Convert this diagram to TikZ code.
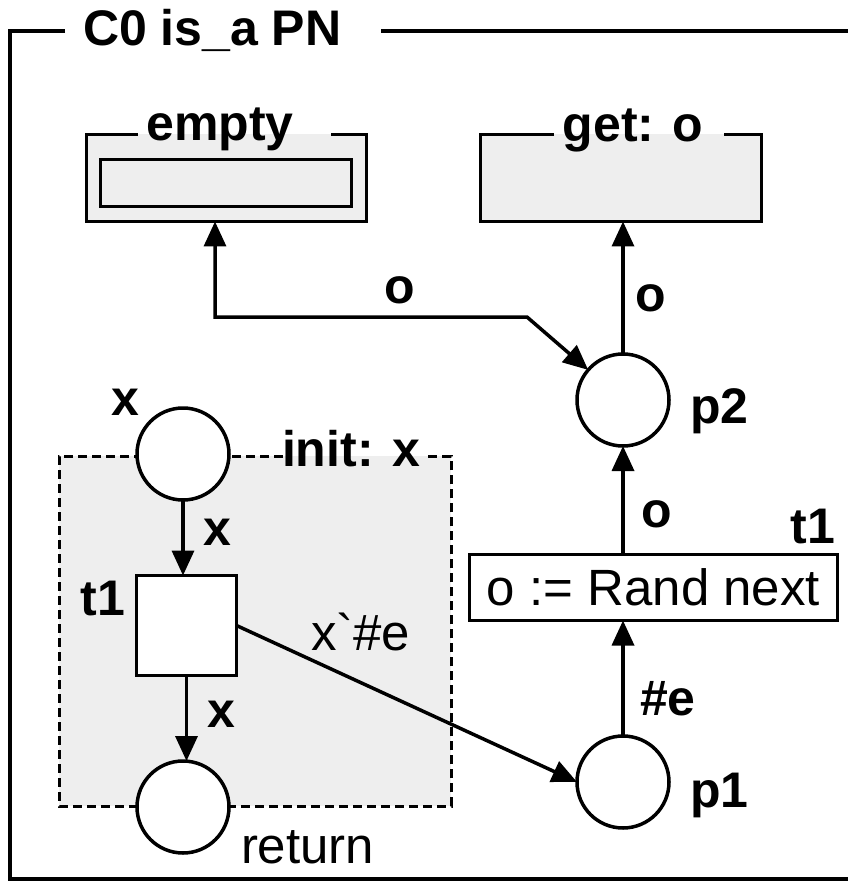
\documentclass[tikz,border=0pt]{standalone}
\usepackage{fontspec}
\setmainfont{Liberation Sans}[Ligatures=TeXOff]
\usetikzlibrary{arrows.meta,calc}
\definecolor{boxgray}{HTML}{EEEEEE}
\begin{document}
\begin{tikzpicture}[x=1pt,y=-1pt,
  every node/.style={inner sep=0pt, outer sep=0pt},
  lbl/.style={font=\fontsize{50pt}{60pt}\selectfont\bfseries},
  lblr/.style={font=\fontsize{51pt}{61pt}\selectfont},
  line/.style={line width=3.5pt},
  place/.style={circle, draw, line width=3.5pt, fill=white, minimum size=92pt},
  trans/.style={rectangle, draw, line width=3.5pt, fill=white},
  arc/.style={line width=3.5pt, -{Triangle[length=25pt,width=22pt]}},
  biarc/.style={line width=3.5pt, {Triangle[length=25pt,width=22pt]}-{Triangle[length=25pt,width=22pt]}},
  fusion/.style={rectangle, fill=boxgray},
  dashedline/.style={line width=3pt, dash pattern=on 9pt off 5pt}
]
\useasboundingbox (0,0) rectangle (848,882);

% outer frame
\node[lbl, anchor=base west] (title) at (83,46) {C0 is\_a PN};
\draw[line] (65,31) -- (10,31) -- (10,879) -- (848,879);
\draw[line] (381,31) -- (848,31);

% empty fusion box
\node[fusion, minimum width=280pt, minimum height=87pt] (emptybox) at (226.5,178) {};
\draw[line] ($(emptybox.north west)+(51,0)$) -- (emptybox.north west) -- (emptybox.south west)
  -- (emptybox.south east) -- (emptybox.north east) -- ++(-36,0);
\node[draw, line width=3.5pt, fill=boxgray, minimum width=251pt, minimum height=47pt] (emptyin) at (226,183) {};
\node[lbl, anchor=base] (emptyt) at (220,141) {empty};

% get fusion box
\node[fusion, minimum width=281pt, minimum height=87pt] (getbox) at (621,178) {};
\draw[line] ($(getbox.north west)+(73.5,0)$) -- (getbox.north west) -- (getbox.south west)
  -- (getbox.south east) -- (getbox.north east) -- ++(-37.5,0);
\node[lbl, anchor=base] (gett) at (633,142) {get: o};

% init box
\node[fusion, minimum width=392pt, minimum height=350pt] (initbox) at (255,631) {};
\draw[dashedline] ($(initbox.north west)+(224,0)$) -- (initbox.north west) -- (initbox.south west)
  -- (initbox.south east) -- (initbox.north east) -- ++(-24,0);
\node[lbl, anchor=base west] (initt) at (282,466) {init: x};

% places
\node[place] (xin) at (183,454) {};
\node[place] (ret) at (183,807) {};
\node[place] (p2) at (623,400) {};
\node[place] (p1) at (623,782) {};

% transitions
\node[trans, minimum size=100pt] (tL) at (186.5,625.5) {};
\node[trans, minimum width=368pt, minimum height=66pt, lblr] (tR) at (653.5,587.5) {o := Rand next};

% arcs
\draw[arc] (xin) -- (xin |- tL.north);
\draw[arc] (tL.south) -- (tL.south |- ret.north);
\draw[arc] (tL.east) -- (p1.west);
\draw[arc] (p1) -- (p1 |- tR.south);
\draw[arc] (p2 |- tR.north) -- (p2);
\draw[arc] (p2) -- (p2 |- getbox.south);
\coordinate (b1) at (215,317);
\coordinate (b2) at (527,317);
\draw[biarc] (b1 |- emptybox.south) -- (b1) -- (b2) -- (p2);

% labels
\node[lbl, anchor=base] (lx1) at (125,415) {x};
\node[lbl, anchor=base] (lx2) at (217,545) {x};
\node[lbl, anchor=base] (lt1L) at (103,615) {t1};
\node[lbl, anchor=base] (lx3) at (221,727) {x};
\node[lblr, anchor=base west] (lxe) at (311,650) {x`\#e};
\node[lblr, anchor=base west] (lret) at (241,863) {return};
\node[lbl, anchor=base] (lo1) at (400,303) {o};
\node[lbl, anchor=base] (lo2) at (651,311) {o};
\node[lbl, anchor=base west] (lp2) at (690,423) {p2};
\node[lbl, anchor=base] (lo3) at (657,527) {o};
\node[lbl, anchor=base east] (lt1R) at (835,543) {t1};
\node[lbl, anchor=base west] (le) at (640,715) {\#e};
\node[lbl, anchor=base west] (lp1) at (690,807) {p1};
\end{tikzpicture}
\end{document}
